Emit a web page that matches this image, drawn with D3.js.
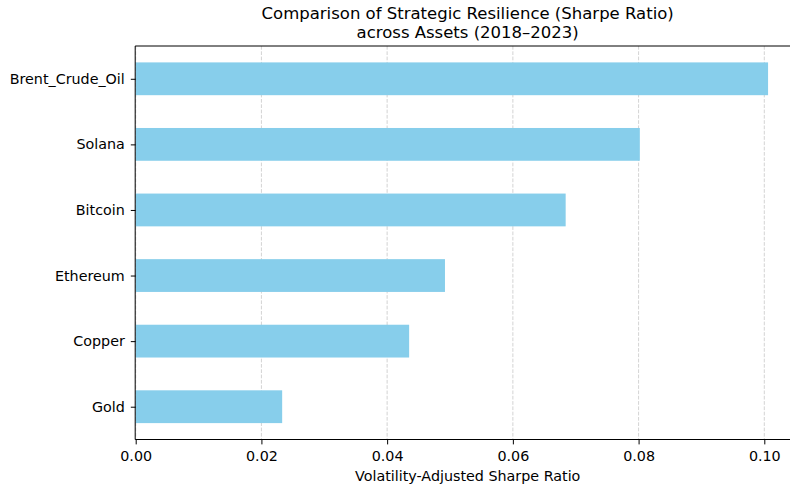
<!DOCTYPE html>
<html>
<head>
<meta charset="utf-8">
<script src="https://cdn.jsdelivr.net/npm/d3@7"></script>
<style>
  body { margin: 0; background: #fff; }
  svg { font-family: "DejaVu Sans", sans-serif; }
</style>
</head>
<body>
<div id="chart"></div>
<script>
// data, bottom to top
const assets = ['Gold', 'Copper', 'Ethereum', 'Bitcoin', 'Solana', 'Brent_Crude_Oil'];
const sharpe = [0.0233, 0.0435, 0.0492, 0.0684, 0.0802, 0.1006];
const xTicks = [0.00, 0.02, 0.04, 0.06, 0.08, 0.10];

const width = 790, height = 488;
const margin = {left: 135.7, top: 46, bottom: 439.5};
const fontSize = '14.3px';

const svg = d3.select('#chart').append('svg')
    .attr('width', width)
    .attr('height', height);

const x = d3.scaleLinear()
    .domain([0, d3.max(sharpe) * 1.05])
    .range([margin.left, margin.left + d3.max(sharpe) * 1.05 * 6286]);

// pandas barh: categories at 0..n-1, limits -0.5..n-0.5, bar height 0.5
const y = d3.scaleLinear()
    .domain([-0.5, assets.length - 0.5])
    .range([margin.bottom, margin.top]);

// grid
svg.append('g').selectAll('line').data(xTicks)
    .join('line')
    .attr('x1', d => x(d)).attr('x2', d => x(d))
    .attr('y1', margin.top).attr('y2', margin.bottom)
    .attr('stroke', '#b0b0b0')
    .attr('stroke-opacity', 0.7)
    .attr('stroke-width', 0.8)
    .attr('stroke-dasharray', '3.7,1.6');

// bars
svg.append('g').selectAll('rect').data(sharpe)
    .join('rect')
    .attr('x', x(0))
    .attr('y', (d, i) => y(i + 0.25))
    .attr('width', d => x(d) - x(0))
    .attr('height', y(0) - y(0.5))
    .attr('fill', '#87ceeb');

// x axis
const xAxis = svg.append('g')
    .attr('transform', `translate(0,${margin.bottom})`)
    .call(d3.axisBottom(x).tickValues(xTicks).tickFormat(d3.format('.2f')).tickSizeOuter(0).tickSize(4.9).tickPadding(6));
xAxis.select('.domain').remove();
xAxis.selectAll('.tick line').attr('stroke', '#000').attr('stroke-width', 1);
xAxis.selectAll('text').attr('font-size', fontSize).attr('fill', '#000').attr('font-family', '"DejaVu Sans", sans-serif');

// y axis
const yAxis = svg.append('g')
    .attr('transform', `translate(${margin.left},0)`)
    .call(d3.axisLeft(y).tickValues(d3.range(assets.length)).tickFormat(i => assets[i]).tickSizeOuter(0).tickSize(4.9).tickPadding(6));
yAxis.select('.domain').remove();
yAxis.selectAll('.tick line').attr('stroke', '#000').attr('stroke-width', 1);
yAxis.selectAll('text').attr('font-size', fontSize).attr('fill', '#000').attr('font-family', '"DejaVu Sans", sans-serif');

// spines as one frame (right edge falls just past the canvas)
const [x0, x1] = x.range();
svg.append('path')
    .attr('d', `M${x0},${margin.top}H${x1}V${margin.bottom}H${x0}Z`)
    .attr('fill', 'none')
    .attr('stroke', '#000')
    .attr('stroke-width', 1)
    .attr('stroke-linejoin', 'miter')
    .attr('stroke-linecap', 'square');

// labels
const midX = (x0 + x1) / 2;
svg.append('text')
    .attr('x', midX)
    .attr('y', 481.3)
    .attr('text-anchor', 'middle')
    .attr('font-size', fontSize)
    .text('Volatility-Adjusted Sharpe Ratio');

const titleLines = ['Comparison of Strategic Resilience (Sharpe Ratio)', 'across Assets (2018–2023)'];
svg.append('g').selectAll('text').data(titleLines)
    .join('text')
    .attr('x', midX)
    .attr('y', (d, i) => 18.8 + i * 19.6)
    .attr('text-anchor', 'middle')
    .attr('font-size', '16.5px')
    .text(d => d);
</script>
</body>
</html>
